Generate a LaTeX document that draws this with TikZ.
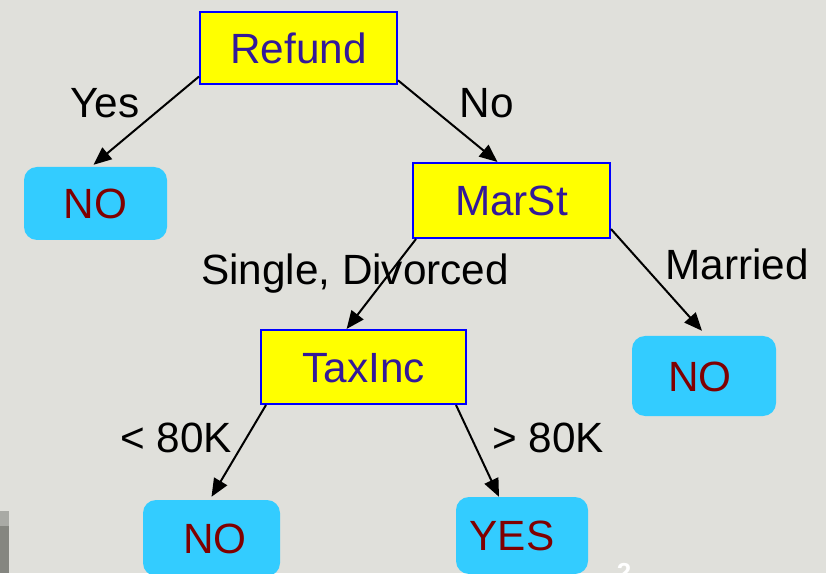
\documentclass[tikz,border=0pt]{standalone}
\usepackage{fontspec}
\setmainfont{Liberation Sans}
\usetikzlibrary{arrows.meta}
\definecolor{bg}{RGB}{224,224,219}
\definecolor{testfill}{RGB}{255,255,0}
\definecolor{testtext}{RGB}{51,25,153}
\definecolor{leaffill}{RGB}{51,204,255}
\definecolor{leaftext}{RGB}{128,0,0}
\definecolor{bandlight}{RGB}{169,170,165}
\definecolor{banddark}{RGB}{133,134,128}
\begin{document}
\begin{tikzpicture}[x=1pt,y=1pt,
  bigfont/.style={font=\fontsize{42.3}{48}\selectfont},
  test/.style={bigfont, draw=blue, line width=2pt, fill=testfill, text=testtext,
    rectangle, inner sep=0pt, text height=30.2pt, text depth=0pt},
  leaf/.style={bigfont, fill=leaffill, text=leaftext, rounded corners=13pt,
    rectangle, inner sep=0pt, text height=30.2pt, text depth=0pt},
  branch/.style={bigfont, text=black, anchor=base, inner sep=0pt},
  arr/.style={line width=2pt, -{Triangle[length=18pt,width=15pt]}}]
  \useasboundingbox (0,0) rectangle (826,573);
  \fill[bg] (0,0) rectangle (826,573);
  \begin{scope}
  \clip (0,0) rectangle (826,573);

  % slide edge marks
  \fill[bandlight] (0,47) rectangle (9,62);
  \fill[banddark] (0,0) rectangle (9,47);
  \node[text=white, anchor=base, font=\fontsize{26}{30}\selectfont\bfseries] (pagenum) at (624,-8) {2};

  % decision nodes
  \node[test, minimum width=197pt, minimum height=72pt] (refund) at (298.5,525) {Refund};
  \node[test, minimum width=197pt, minimum height=75pt] (marst) at (511.5,372.5) {MarSt};
  \node[test, minimum width=205pt, minimum height=74pt] (taxinc) at (363.5,206) {TaxInc};

  % leaves
  \node[leaf, minimum width=143pt, minimum height=73pt] (noA) at (95.5,369.5) {NO};
  \node[leaf, minimum width=144pt, minimum height=80pt] (noB) at (704,197) {\hspace*{-8pt}NO};
  \node[leaf, minimum width=137pt, minimum height=76pt] (noC) at (211.5,35) {NO\hspace*{-7pt}};
  \node[leaf, minimum width=132pt, minimum height=77pt] (yes) at (522,37.5) {\hspace*{-20pt}YES};

  % branches
  \draw[arr] (refund.196) -- ([xshift=-2pt,yshift=2pt]noA.north);
  \draw[arr] (refund.-18.5) -- (marst.110);
  \draw[arr] ([xshift=4pt]marst.south west) -- (taxinc.114);
  \draw[arr] (marst.-16.5) -- ([xshift=-2pt,yshift=5pt]noB.north);
  \draw[arr] ([xshift=6pt]taxinc.south west) -- ([yshift=3pt]noC.north);
  \draw[arr] ([xshift=-11pt]taxinc.south east) -- ([xshift=-23pt]yes.north);

  % branch labels
  \node[branch] (lyes) at (105,455) {Yes};
  \node[branch] (lno) at (487,455) {No};
  \node[branch] (lsingle) at (355,288) {Single, Divorced};
  \node[branch] (lmarried) at (737,293) {Married};
  \node[branch] (llow) at (176,121) {< 80K};
  \node[branch] (lhigh) at (548,121) {> 80K};
  \end{scope}
\end{tikzpicture}
\end{document}
